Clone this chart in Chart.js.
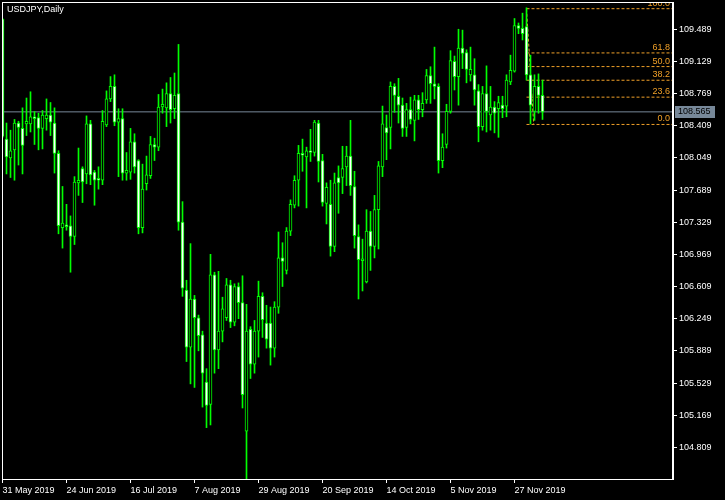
<!DOCTYPE html>
<html>
<head>
<meta charset="utf-8">
<style>
  html, body { margin: 0; padding: 0; background: #000; }
  #wrap { width: 725px; height: 500px; position: relative; }
</style>
<script src="https://cdn.jsdelivr.net/npm/chart.js@4.4.1/dist/chart.umd.min.js"></script>
</head>
<body>
<div id="wrap"><canvas id="chart"></canvas></div>
<script>
// --- data (USDJPY daily, 31 May 2019 .. 6 Dec 2019) ---
const symbolTitle = "USDJPY,Daily";

const opens = [
  109.60, 108.26, 108.05, 108.14, 108.44, 108.38, 108.43, 108.43, 108.51, 108.50,
  108.38, 108.49, 108.53, 108.44, 108.10, 107.27, 107.30, 107.29, 107.17, 107.77,
  107.93, 107.87, 108.43, 107.89, 107.82, 107.80, 108.42, 108.71, 108.85, 108.45,
  108.49, 107.88, 107.89, 108.23, 108.02, 107.27, 107.76, 107.85, 108.20, 108.17,
  108.62, 108.61, 108.77, 108.60, 108.77, 107.33, 106.57, 105.93, 106.47, 106.26,
  106.07, 105.54, 105.29, 106.74, 105.90, 106.11, 106.26, 106.63, 106.21, 106.61,
  106.43, 104.99, 106.13, 105.74, 106.11, 106.50, 106.20, 106.20, 105.92, 106.38,
  106.93, 106.79, 107.23, 107.52, 107.80, 108.10, 108.06, 108.13, 108.11, 108.44,
  108.02, 107.54, 107.53, 107.06, 107.83, 107.83, 107.95, 108.07, 107.73, 107.17,
  106.90, 106.66, 107.23, 107.06, 107.47, 107.95, 108.39, 108.39, 108.85, 108.74,
  108.64, 108.39, 108.59, 108.47, 108.70, 108.59, 108.70, 108.97, 108.88, 108.85,
  108.02, 108.20, 108.57, 109.13, 108.96, 109.28, 109.23, 108.98, 108.98, 108.80,
  108.40, 108.77, 108.53, 108.62, 108.60, 108.64, 108.63, 108.90, 109.02, 109.53,
  109.50, 109.52, 108.98, 108.57, 108.85, 108.75
];
const highs = [
  109.61, 108.44, 108.36, 108.48, 108.46, 108.61, 108.72, 108.79, 108.57, 108.55,
  108.58, 108.71, 108.67, 108.61, 108.13, 107.73, 107.53, 107.40, 107.84, 108.16,
  107.95, 108.52, 108.47, 107.91, 107.95, 108.58, 108.80, 108.96, 108.98, 108.60,
  108.60, 108.11, 108.38, 108.32, 108.03, 107.98, 108.07, 108.29, 108.27, 108.76,
  108.82, 108.89, 108.95, 109.00, 109.32, 107.56, 106.68, 107.09, 106.51, 106.29,
  106.11, 105.69, 106.97, 106.77, 106.78, 106.49, 106.70, 106.68, 106.64, 106.65,
  106.73, 106.41, 106.16, 106.23, 106.67, 106.54, 106.40, 106.38, 106.44, 107.22,
  107.10, 107.27, 107.58, 107.85, 108.19, 108.26, 108.17, 108.37, 108.47, 108.47,
  108.09, 107.77, 107.80, 107.88, 107.96, 108.18, 108.18, 108.47, 107.90, 107.30,
  107.14, 107.47, 107.45, 107.63, 108.01, 108.63, 108.53, 108.90, 108.88, 108.94,
  108.72, 108.66, 108.73, 108.75, 108.75, 108.78, 109.04, 109.07, 109.29, 108.88,
  108.32, 108.65, 109.25, 109.19, 109.49, 109.48, 109.26, 109.29, 109.16, 108.87,
  108.85, 109.08, 108.85, 108.68, 108.74, 108.74, 108.98, 109.20, 109.61, 109.56,
  109.67, 109.73, 109.20, 108.98, 108.99, 108.92
];
const lows = [
  108.28, 107.87, 107.83, 107.80, 107.97, 107.87, 108.30, 108.34, 108.20, 108.14,
  108.15, 108.36, 108.30, 107.88, 107.20, 107.04, 107.24, 106.77, 107.08, 107.63,
  107.55, 107.76, 107.75, 107.52, 107.70, 107.75, 108.40, 108.68, 108.41, 107.84,
  107.80, 107.80, 107.81, 107.88, 107.20, 107.21, 107.69, 107.82, 108.02, 108.13,
  108.55, 108.40, 108.44, 108.49, 107.24, 106.50, 105.77, 105.52, 105.48, 105.89,
  105.26, 105.03, 105.06, 105.64, 105.69, 105.99, 106.23, 106.15, 106.17, 106.25,
  105.25, 104.45, 105.58, 105.64, 105.82, 106.04, 105.92, 105.73, 105.82, 106.31,
  106.61, 106.75, 107.18, 107.49, 107.51, 107.90, 107.49, 108.01, 108.07, 107.78,
  107.51, 107.31, 106.95, 107.00, 107.43, 107.65, 107.74, 107.63, 107.04, 106.47,
  106.56, 106.65, 106.79, 106.93, 107.03, 107.84, 108.03, 108.15, 108.56, 108.44,
  108.29, 108.29, 108.43, 108.24, 108.48, 108.51, 108.66, 108.66, 108.71, 107.88,
  107.94, 108.16, 108.55, 108.81, 108.64, 109.05, 108.89, 108.91, 108.64, 108.23,
  108.36, 108.34, 108.36, 108.33, 108.28, 108.50, 108.51, 108.87, 109.01, 109.44,
  109.37, 108.92, 108.43, 108.47, 108.55, 108.48
];
const closes = [
  108.29, 108.06, 108.13, 108.44, 108.39, 108.19, 108.46, 108.51, 108.49, 108.38,
  108.53, 108.53, 108.45, 108.10, 107.29, 107.32, 107.28, 107.17, 107.78, 107.80,
  107.78, 108.43, 107.86, 107.80, 107.80, 108.46, 108.71, 108.85, 108.45, 108.49,
  107.88, 107.91, 108.23, 107.95, 107.27, 107.70, 107.86, 108.20, 108.17, 108.62,
  108.65, 108.77, 108.59, 108.75, 107.33, 106.59, 105.93, 106.47, 106.26, 106.06,
  105.64, 105.28, 106.74, 105.90, 106.11, 106.36, 106.63, 106.21, 106.61, 106.43,
  105.40, 106.11, 105.74, 106.11, 106.50, 106.24, 106.02, 105.92, 106.38, 106.93,
  106.89, 107.23, 107.53, 107.80, 108.10, 108.08, 108.13, 108.11, 108.45, 108.01,
  107.55, 107.72, 107.06, 107.77, 107.77, 107.93, 108.07, 107.74, 107.18, 106.91,
  106.92, 107.23, 107.06, 107.47, 107.96, 108.43, 108.33, 108.85, 108.75, 108.64,
  108.38, 108.59, 108.48, 108.70, 108.59, 108.66, 108.97, 108.88, 108.85, 108.02,
  108.17, 108.57, 109.14, 108.96, 109.28, 109.22, 109.04, 109.04, 108.81, 108.40,
  108.77, 108.57, 108.62, 108.55, 108.67, 108.60, 108.92, 109.03, 109.53, 109.50,
  109.44, 108.98, 108.64, 108.85, 108.75, 108.565
];

const xTickIdx = [0, 16, 32, 48, 64, 80, 96, 112, 128];
const xTickLabels = ["31 May 2019", "24 Jun 2019", "16 Jul 2019", "7 Aug 2019", "29 Aug 2019",
                     "20 Sep 2019", "14 Oct 2019", "5 Nov 2019", "27 Nov 2019"];
const yTicks = [109.489, 109.129, 108.769, 108.409, 108.049, 107.689, 107.329,
                106.969, 106.609, 106.249, 105.889, 105.529, 105.169, 104.809];

const bidPrice = 108.565;
// fibo drawn from 2 Dec high (bar 131) to 3 Dec low
const fibHigh = 109.72, fibLow = 108.424;
const fibStartBar = 131, fibEndBar = 132.8;
const fibLevels = [0, 23.6, 38.2, 50, 61.8, 100];

// --- helpers ---
const LIME = "#00ff00";
const FIBO = "#f0a028";
const BIDCOL = "#778899";
const xMin = -0.125, xMax = xMin + 670 / 4;

const wicks = lows.map((l, i) => ({ x: i, y: [l, highs[i]] }));
const bodies = opens.map((o, i) => ({ x: i, y: [Math.min(o, closes[i]), Math.max(o, closes[i])] }));
const bodyFill = opens.map((o, i) => closes[i] < o ? "#ffffff" : "#000000");

const fibPrice = lv => fibLow + (fibHigh - fibLow) * lv / 100;

const fibSets = fibLevels.map(lv => ({
  type: "line",
  data: [{ x: fibStartBar, y: fibPrice(lv) }, { x: xMax, y: fibPrice(lv) }],
  borderColor: FIBO, borderWidth: 1, borderDash: [3, 2],
  pointRadius: 0, order: 4
}));

const overlay = {
  id: "mtOverlay",
  afterDraw(chart) {
    const { ctx, chartArea: a, scales } = chart;
    ctx.save();
    // frame: left/top 1px, right 2px, bottom 1px
    ctx.fillStyle = "#ffffff";
    ctx.fillRect(a.left, a.top, a.right - a.left + 2, 1);
    ctx.fillRect(a.left, a.top, 1, a.bottom - a.top);
    ctx.fillRect(a.right, a.top, 2, a.bottom - a.top + 1);
    ctx.fillRect(a.left, a.bottom, a.right - a.left + 2, 1);
    ctx.font = "9px 'Liberation Sans'";
    // title
    ctx.textBaseline = "middle";
    ctx.textAlign = "left";
    ctx.fillText(symbolTitle, 7, 10);
    // fibo labels
    ctx.save();
    ctx.beginPath();
    ctx.rect(a.left, a.top + 1, a.right - a.left, a.bottom - a.top);
    ctx.clip();
    ctx.fillStyle = FIBO;
    ctx.textAlign = "right";
    ctx.textBaseline = "alphabetic";
    fibLevels.forEach(lv => {
      const y = scales.y.getPixelForValue(fibPrice(lv));
      ctx.fillText(lv.toFixed(1), a.right - 2, y - 3);
    });
    ctx.restore();
    // bid price box
    const by = Math.round(scales.y.getPixelForValue(bidPrice));
    ctx.fillStyle = BIDCOL;
    ctx.fillRect(a.right + 3, by - 6, 40, 12);
    ctx.fillStyle = "#000000";
    ctx.textAlign = "left";
    ctx.textBaseline = "middle";
    ctx.fillText(bidPrice.toFixed(3), a.right + 6, by);
    ctx.restore();
  }
};

Chart.defaults.color = "#ffffff";
Chart.defaults.font.family = "'Liberation Sans', Arial, sans-serif";
Chart.defaults.font.size = 9;

new Chart(document.getElementById("chart"), {
  type: "bar",
  data: {
    datasets: [
      {
        type: "line",
        data: [{ x: xMin, y: bidPrice }, { x: xMax, y: bidPrice }],
        borderColor: BIDCOL, borderWidth: 1, pointRadius: 0, order: 5
      },
      ...fibSets,
      {
        type: "line",
        data: [{ x: fibStartBar, y: fibHigh }, { x: fibEndBar, y: fibLow }],
        borderColor: FIBO, borderWidth: 1, borderDash: [3, 2], pointRadius: 0, order: 3
      },
      {
        data: wicks, backgroundColor: LIME, barThickness: 1,
        grouped: false, order: 2, clip: 0
      },
      {
        data: bodies, backgroundColor: bodyFill, borderColor: LIME, borderWidth: 1,
        borderSkipped: false, barThickness: 3, grouped: false, order: 1, clip: 0
      }
    ]
  },
  options: {
    responsive: true,
    maintainAspectRatio: false,
    animation: false,
    events: [],
    layout: { padding: { left: 2, top: 2, right: 0, bottom: 0 } },
    plugins: { legend: { display: false }, tooltip: { enabled: false } },
    scales: {
      x: {
        type: "linear", min: xMin, max: xMax, offset: false,
        grid: { display: true, drawOnChartArea: false, drawTicks: true, tickLength: 4, color: "#ffffff", offset: false },
        border: { display: false },
        afterBuildTicks: s => { s.ticks = xTickIdx.map(v => ({ value: v })); },
        afterFit: s => { s.height = 21; s.paddingLeft = 0; s.paddingRight = 0; },
        ticks: {
          autoSkip: false, maxRotation: 0, align: "start", padding: 2,
          callback: (v, i) => xTickLabels[i]
        }
      },
      y: {
        type: "linear", position: "right", min: 104.455, max: 109.795,
        grid: { display: true, drawOnChartArea: false, drawTicks: true, tickLength: 5, color: "#ffffff" },
        border: { display: false },
        afterBuildTicks: s => { s.ticks = yTicks.map(v => ({ value: v })); },
        afterFit: s => { s.width = 53; s.paddingTop = 0; s.paddingBottom = 0; },
        ticks: { padding: 2, callback: v => v.toFixed(3) }
      }
    }
  },
  plugins: [overlay]
});
</script>
</body>
</html>
